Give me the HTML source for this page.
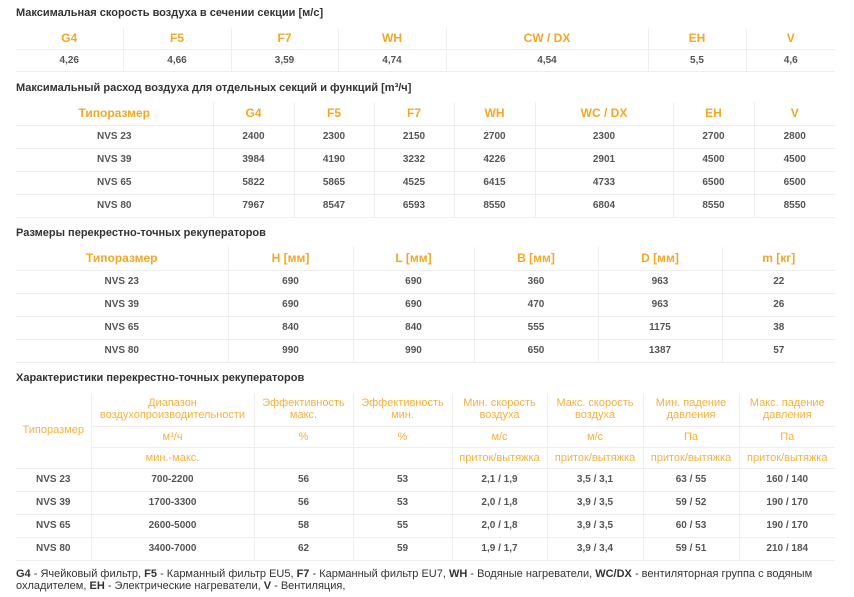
<!DOCTYPE html>
<html><head><meta charset="utf-8"><style>
body{margin:0;width:854px;height:597px;background:#fff;font-family:"Liberation Sans",sans-serif;position:relative;overflow:hidden}
.t{position:absolute;left:16px;font-size:11px;font-weight:bold;color:#333}
table{position:absolute;left:16px;border-collapse:collapse;table-layout:fixed;width:819px}
td,th{border:1px solid #eee;text-align:center;padding:0;font-size:10px;color:#555;font-weight:bold}
tr td:first-child,tr th:first-child{border-left:none}
tr td:last-child,tr th:last-child{border-right:none}
tr:first-child th{border-top:none}
th{color:#f5a623;font-size:12px}
.h4 th{font-weight:normal;color:#f7b03c;font-size:11px;line-height:12px}
.ft{position:absolute;left:16px;top:568px;width:830px;font-size:11px;color:#333;line-height:12px}
</style></head><body>
<div class="t" style="top:7px">Максимальная скорость воздуха в сечении секции [м/с]</div>
<table style="top:28px">
<colgroup><col style="width:107px"><col style="width:108px"><col style="width:107px"><col style="width:108px"><col style="width:202px"><col style="width:98px"><col style="width:89px"></colgroup>
<tr style="height:21px"><th>G4</th><th>F5</th><th>F7</th><th>WH</th><th>CW / DX</th><th>EH</th><th>V</th></tr>
<tr style="height:22px"><td>4,26</td><td>4,66</td><td>3,59</td><td>4,74</td><td>4,54</td><td>5,5</td><td>4,6</td></tr>
</table>
<div class="t" style="top:82px">Максимальный расход воздуха для отдельных секций и функций [m³/ч]</div>
<table style="top:102px">
<colgroup><col style="width:197px"><col style="width:81px"><col style="width:80px"><col style="width:80px"><col style="width:81px"><col style="width:138px"><col style="width:81px"><col style="width:81px"></colgroup>
<tr style="height:23px"><th>Типоразмер</th><th>G4</th><th>F5</th><th>F7</th><th>WH</th><th>WC / DX</th><th>EH</th><th>V</th></tr>
<tr style="height:23px"><td>NVS 23</td><td>2400</td><td>2300</td><td>2150</td><td>2700</td><td>2300</td><td>2700</td><td>2800</td></tr>
<tr style="height:23px"><td>NVS 39</td><td>3984</td><td>4190</td><td>3232</td><td>4226</td><td>2901</td><td>4500</td><td>4500</td></tr>
<tr style="height:23px"><td>NVS 65</td><td>5822</td><td>5865</td><td>4525</td><td>6415</td><td>4733</td><td>6500</td><td>6500</td></tr>
<tr style="height:23px"><td>NVS 80</td><td>7967</td><td>8547</td><td>6593</td><td>8550</td><td>6804</td><td>8550</td><td>8550</td></tr>
</table>
<div class="t" style="top:227px">Размеры перекрестно-точных рекуператоров</div>
<table style="top:247px">
<colgroup><col style="width:212px"><col style="width:125px"><col style="width:121px"><col style="width:124px"><col style="width:124px"><col style="width:113px"></colgroup>
<tr style="height:23px"><th>Типоразмер</th><th>H [мм]</th><th>L [мм]</th><th>B [мм]</th><th>D [мм]</th><th>m [кг]</th></tr>
<tr style="height:23px"><td>NVS 23</td><td>690</td><td>690</td><td>360</td><td>963</td><td>22</td></tr>
<tr style="height:23px"><td>NVS 39</td><td>690</td><td>690</td><td>470</td><td>963</td><td>26</td></tr>
<tr style="height:23px"><td>NVS 65</td><td>840</td><td>840</td><td>555</td><td>1175</td><td>38</td></tr>
<tr style="height:23px"><td>NVS 80</td><td>990</td><td>990</td><td>650</td><td>1387</td><td>57</td></tr>
</table>
<div class="t" style="top:372px">Характеристики перекрестно-точных рекуператоров</div>
<table style="top:393px">
<colgroup><col style="width:75px"><col style="width:163px"><col style="width:99px"><col style="width:99px"><col style="width:95px"><col style="width:96px"><col style="width:96px"><col style="width:96px"></colgroup>
<tr class="h4" style="height:33px"><th rowspan="3">Типоразмер</th><th>Диапазон воздухопроизводительности</th><th>Эффективность макс.</th><th>Эффективность мин.</th><th>Мин. скорость воздуха</th><th>Макс. скорость воздуха</th><th>Мин. падение давления</th><th>Макс. падение давления</th></tr>
<tr class="h4" style="height:21px"><th>м³/ч</th><th>%</th><th>%</th><th>м/с</th><th>м/с</th><th>Па</th><th>Па</th></tr>
<tr class="h4" style="height:21px"><th>мин.-макс.</th><th></th><th></th><th>приток/вытяжка</th><th>приток/вытяжка</th><th>приток/вытяжка</th><th>приток/вытяжка</th></tr>
<tr style="height:23px"><td>NVS 23</td><td>700-2200</td><td>56</td><td>53</td><td>2,1 / 1,9</td><td>3,5 / 3,1</td><td>63 / 55</td><td>160 / 140</td></tr>
<tr style="height:23px"><td>NVS 39</td><td>1700-3300</td><td>56</td><td>53</td><td>2,0 / 1,8</td><td>3,9 / 3,5</td><td>59 / 52</td><td>190 / 170</td></tr>
<tr style="height:23px"><td>NVS 65</td><td>2600-5000</td><td>58</td><td>55</td><td>2,0 / 1,8</td><td>3,9 / 3,5</td><td>60 / 53</td><td>190 / 170</td></tr>
<tr style="height:23px"><td>NVS 80</td><td>3400-7000</td><td>62</td><td>59</td><td>1,9 / 1,7</td><td>3,9 / 3,4</td><td>59 / 51</td><td>210 / 184</td></tr>
</table>
<div class="ft"><b>G4</b> - Ячейковый фильтр, <b>F5</b> - Карманный фильтр EU5, <b>F7</b> - Карманный фильтр EU7, <b>WH</b> - Водяные нагреватели, <b>WC/DX</b> - вентиляторная группа с водяным охладителем, <b>EH</b> - Электрические нагреватели, <b>V</b> - Вентиляция,</div>
</body></html>
